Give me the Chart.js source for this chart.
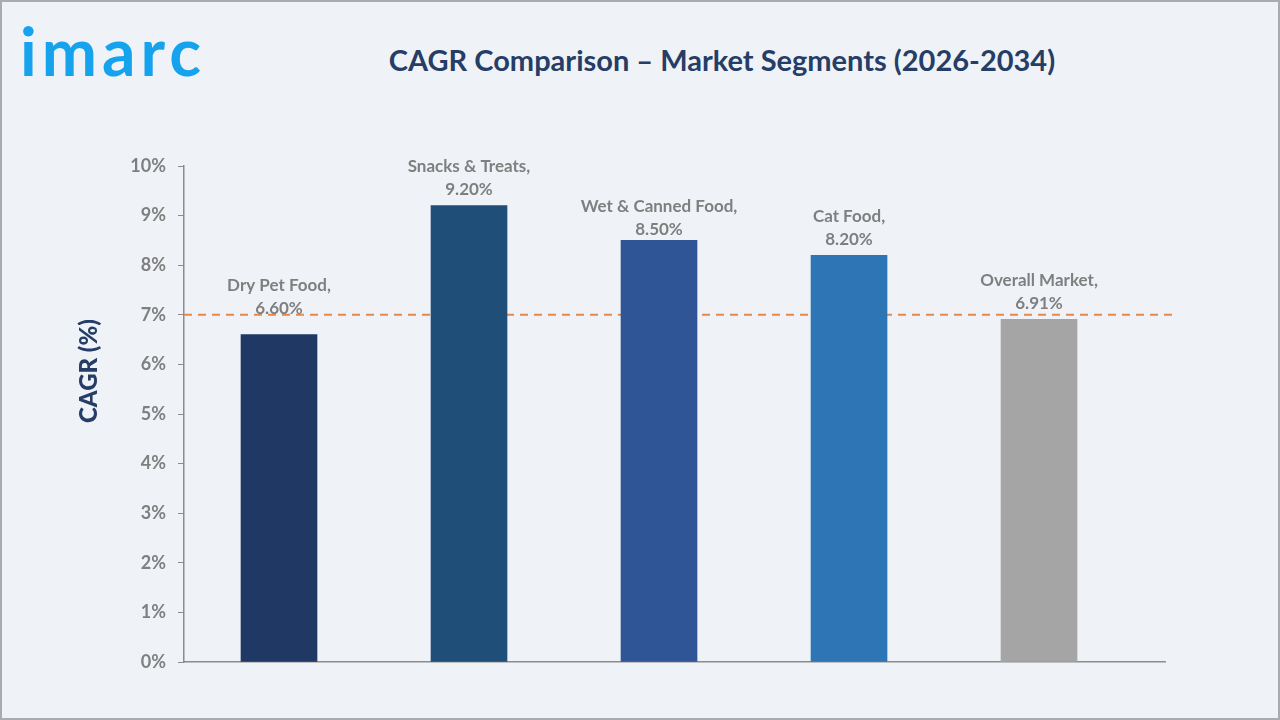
<!DOCTYPE html>
<html><head><meta charset="utf-8">
<script src="https://cdn.jsdelivr.net/npm/chart.js@4.4.1/dist/chart.umd.min.js"></script>
<style>
html,body{margin:0;padding:0;}
body{width:1280px;height:720px;background:#eff3f8;position:relative;overflow:hidden;font-family:Lato,"Open Sans",sans-serif;}
#frame{position:absolute;left:0;top:0;width:1276px;height:716px;border:2px solid #a9abae;}
#logo{position:absolute;left:20px;top:18px;font-family:"Lato",sans-serif;font-weight:700;font-size:66px;color:#16a3ee;letter-spacing:5px;line-height:65px;}
#title{position:absolute;left:0;width:1444px;top:41px;text-align:center;font-weight:700;font-size:29px;color:#263d66;line-height:38px;}
#c{position:absolute;left:0;top:0;}
</style></head>
<body>
<div id="frame"></div>
<div id="logo">imarc</div>
<div id="title">CAGR Comparison – Market Segments (2026-2034)</div>
<canvas id="c" width="1280" height="720"></canvas>
<script>
const categories = ["Dry Pet Food", "Snacks & Treats", "Wet & Canned Food", "Cat Food", "Overall Market"];
const cagrValues = [6.60, 9.20, 8.50, 8.20, 6.91];
const barColors = ["#1f3864", "#1f4e79", "#2f5597", "#2e75b6", "#a5a5a5"];
const yTicks = [0,1,2,3,4,5,6,7,8,9,10];
const referenceLine = 7;

const labelPlugin = {
  id: 'labels',
  afterDatasetsDraw(chart, args, opts) {
    const ctx = chart.ctx;
    const meta = chart.getDatasetMeta(0);
    ctx.save();
    ctx.fillStyle = '#7f7f7f';
    ctx.font = '700 17px Lato, sans-serif';
    ctx.textAlign = 'center';
    ctx.textBaseline = 'middle';
    meta.data.forEach((bar, i) => {
      const off = (opts.offsets && opts.offsets[i]) || 16;
      ctx.fillText(categories[i] + ',', bar.x, bar.y - off - 23);
      ctx.fillText(cagrValues[i].toFixed(2) + '%', bar.x, bar.y - off);
    });
    ctx.restore();
  }
};
const refLinePlugin = {
  id: 'refline',
  beforeDatasetsDraw(chart) {
    const ctx = chart.ctx;
    const y = chart.scales.y.getPixelForValue(referenceLine);
    ctx.save();
    ctx.strokeStyle = '#e6894a';
    ctx.lineWidth = 2;
    ctx.setLineDash([8, 6]);
    ctx.beginPath();
    ctx.moveTo(chart.chartArea.left, y);
    ctx.lineTo(chart.chartArea.right + 7, y);
    ctx.stroke();
    ctx.restore();
  }
};
const yTitlePlugin = {
  id: 'ytitle',
  afterDraw(chart) {
    const ctx = chart.ctx;
    ctx.save();
    ctx.translate(89, 371);
    ctx.rotate(-Math.PI/2);
    ctx.fillStyle = '#263d66';
    ctx.font = '900 24px Lato, sans-serif';
    ctx.textAlign = 'center';
    ctx.textBaseline = 'middle';
    ctx.fillText('CAGR (%)', 0, 0);
    ctx.restore();
  }
};

new Chart(document.getElementById('c'), {
  type: 'bar',
  data: {
    datasets: [{
      data: cagrValues.map((v, i) => ({x: i, y: v})),
      backgroundColor: barColors,
      barThickness: 76,
      borderWidth: 0
    }]
  },
  options: {
    responsive: false,
    animation: false,
    layout: {padding: {left: 0, top: 166, right: 115, bottom: 58}},
    plugins: {
      legend: {display: false},
      tooltip: {enabled: false},
      labels: {offsets: [26, 16, 11, 16, 16]}
    },
    scales: {
      x: {
        type: 'linear',
        min: -0.5,
        max: 4.663,
        offset: false,
        ticks: {display: false},
        grid: {display: false, drawTicks: false},
        border: {display: true, color: '#8c8c8c', width: 1.5},
        afterFit(s) { s.height = 0; }
      },
      y: {
        min: 0, max: 10,
        afterBuildTicks(s) { s.ticks = yTicks.map(v => ({value: v})); },
        ticks: {
          callback: v => v + '%',
          color: '#7f7f7f',
          font: {family: 'Lato', size: 18, weight: '700'},
          padding: 12
        },
        grid: {drawOnChartArea: false, drawTicks: true, tickLength: 6, color: '#8c8c8c'},
        border: {display: true, color: '#8c8c8c', width: 1.5},
        afterFit(s) { s.width = 184; }
      }
    }
  },
  plugins: [refLinePlugin, labelPlugin, yTitlePlugin]
});
</script>
</body></html>
